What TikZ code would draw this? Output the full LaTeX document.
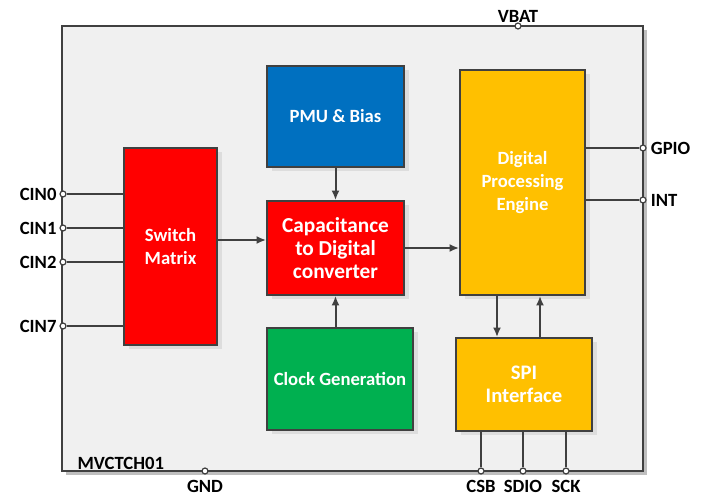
\documentclass[tikz,border=0pt]{standalone}
\usepackage{fontspec}
\setmainfont{Carlito}
\usepackage{xcolor}
\usetikzlibrary{positioning, calc, shadows, arrows.meta}
\definecolor{edgegray}{HTML}{404040}
\definecolor{chipgray}{HTML}{F0F0F0}
\definecolor{swred}{HTML}{FF0000}
\definecolor{pmublue}{HTML}{0070C0}
\definecolor{clkgreen}{HTML}{00B050}
\definecolor{dpegold}{HTML}{FFC000}

\begin{document}
\begin{tikzpicture}[
    x = 0.75pt, y = -0.75pt, > = {Latex[length=7pt, width=6pt]},
    align = center,
    block/.style = {
      rectangle, draw = edgegray, line width = 1.5pt, text = white,
      inner sep = 0pt, font = \fontsize{14}{17}\selectfont\bfseries,
      drop shadow = {shadow xshift = 4pt, shadow yshift = -3pt,
        fill = black, opacity = 0.08}
    },
    bigblock/.style = {
      block, font = \fontsize{16}{17}\selectfont\bfseries
    },
    chip/.style = {
      rectangle, draw = edgegray, line width = 1.5pt, fill = chipgray,
      inner sep = 0pt,
      drop shadow = {shadow xshift = 3pt, shadow yshift = -3pt,
        fill = black, opacity = 0.25}
    },
    pinpt/.style = {
      circle, draw = edgegray, fill = white, line width = 0.9pt,
      inner sep = 0pt, minimum size = 4.5pt
    },
    lbl/.style = {
      inner sep = 1pt, font = \fontsize{14}{17}\selectfont\bfseries, text = black
    },
    wire/.style = {
      draw = edgegray, line width = 1.5pt
    },
    path/.style = {
      ->, draw = edgegray, line width = 1.5pt, color = edgegray
    },
    ]
\useasboundingbox (0,0) rectangle (704,499);

% chip outline
\node  [chip, minimum width = 581*0.75pt, minimum height = 445*0.75pt]  (chip)  at (352.5,248.5)  {};
\node  [lbl, anchor = west]  (partno)  at (76,463)  {MVCTCH01};

% function blocks
\node  [block, fill = swred, minimum width = 93*0.75pt, minimum height = 197*0.75pt]  (sw)  at (170.5,246.5)  {Switch\\Matrix};
\node  [block, fill = pmublue, minimum width = 137*0.75pt, minimum height = 101*0.75pt]  (pmu)  at (335.5,116.5)  {PMU \& Bias};
\node  [bigblock, fill = swred, minimum width = 137*0.75pt, minimum height = 94*0.75pt]  (cdc)  at (335.5,248)  {Capacitance\\to Digital\\converter};
\node  [block, fill = clkgreen, minimum width = 146*0.75pt, minimum height = 102*0.75pt]  (clk)  at (340,379)  {Clock Generation};
\node  [block, fill = dpegold, minimum width = 125*0.75pt, minimum height = 225*0.75pt]  (dpe)  at (522.5,182.5)  {Digital\\Processing\\Engine};
\node  [bigblock, fill = dpegold, font = \fontsize{15.5}{17.5}\selectfont\bfseries, minimum width = 136*0.75pt, minimum height = 93*0.75pt]  (spi)  at (524,384.5)  {SPI\\Interface};

% pins
\node  [pinpt]  (vbat)  at (518,26)  {};
\node  [pinpt]  (gnd)  at (205,471)  {};
\node  [pinpt]  (cin0)  at (63,194)  {};
\node  [pinpt]  (cin1)  at (63,228)  {};
\node  [pinpt]  (cin2)  at (63,262)  {};
\node  [pinpt]  (cin7)  at (63,326)  {};
\node  [pinpt]  (gpio)  at (643,148)  {};
\node  [pinpt]  (int)  at (643,200)  {};
\node  [pinpt]  (csb)  at (481,471)  {};
\node  [pinpt]  (sdio)  at (523,471)  {};
\node  [pinpt]  (sck)  at (566,471)  {};

\node  [lbl, above = -1pt of vbat]  {VBAT};
\node  [lbl, below = 3pt of gnd]  {GND};
\node  [lbl, left = 1pt of cin0]  {CIN0};
\node  [lbl, left = 1pt of cin1]  {CIN1};
\node  [lbl, left = 1pt of cin2]  {CIN2};
\node  [lbl, left = 1pt of cin7]  {CIN7};
\node  [lbl, right = 2pt of gpio]  {GPIO};
\node  [lbl, right = 2pt of int]  {INT};
\node  [lbl, below = 3pt of csb]  {CSB};
\node  [lbl, below = 3pt of sdio]  {SDIO};
\node  [lbl, below = 3pt of sck]  {SCK};

% pin wires
\foreach \p in {cin0, cin1, cin2, cin7} {
  \draw  [wire]  (\p) -- (\p -| sw.west);
}
\foreach \p in {gpio, int} {
  \draw  [wire]  (\p -| dpe.east) -- (\p);
}
\foreach \p in {csb, sdio, sck} {
  \draw  [wire]  (\p |- spi.south) -- (\p);
}

% signal flow
\draw  [path]  (pmu.south)  --  (cdc.north);
\draw  [path]  (clk.north -| cdc.south)  --  (cdc.south);
\draw  [path]  (sw.east |- 0,240)  --  (cdc.west |- 0,240);
\draw  [path]  (cdc.east)  --  (cdc.east -| dpe.west);
\draw  [path]  (dpe.south -| 497,0)  --  (spi.north -| 497,0);
\draw  [path]  (spi.north -| 540,0)  --  (dpe.south -| 540,0);

\end{tikzpicture}
\end{document}
